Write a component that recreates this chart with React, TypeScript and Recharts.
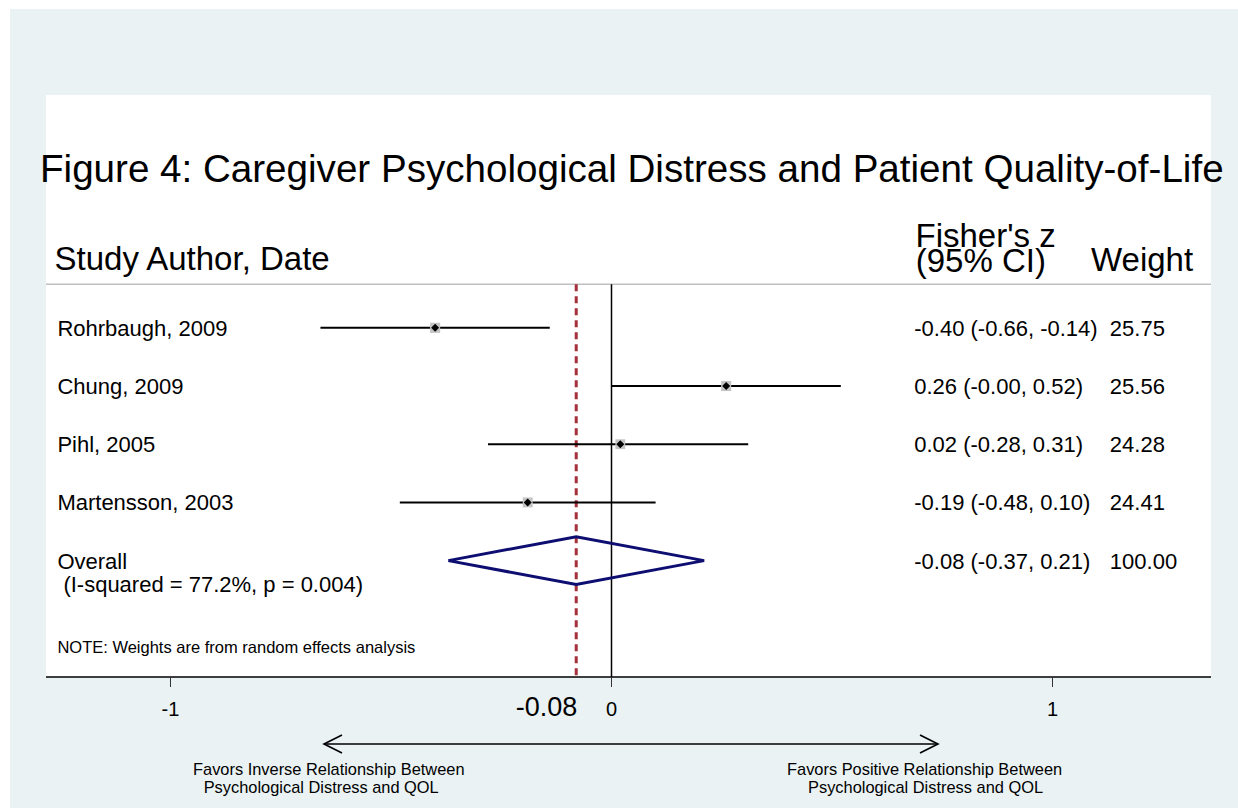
import React from 'react';
import { ComposedChart, Scatter, XAxis, YAxis, ReferenceLine, CartesianGrid, Customized } from 'recharts';

// study rows
const studies = ['Rohrbaugh, 2009', 'Chung, 2009', 'Pihl, 2005', 'Martensson, 2003'];
const estimates = [-0.4, 0.26, 0.02, -0.19];
const lower = [-0.66, -0.0, -0.28, -0.48];
const upper = [-0.14, 0.52, 0.31, 0.1];
const weights = [25.75, 25.56, 24.28, 24.41];
const ciLabels = ['-0.40 (-0.66, -0.14)', '0.26 (-0.00, 0.52)', '0.02 (-0.28, 0.31)', '-0.19 (-0.48, 0.10)'];

// pooled (random effects) result
const overallLabel = 'Overall';
const overallEstimate = -0.08;
const overallLower = -0.37;
const overallUpper = 0.21;
const overallWeight = 100.0;
const overallCiLabel = '-0.08 (-0.37, 0.21)';
const heterogeneity = '(I-squared = 77.2%, p = 0.004)';
const note = 'NOTE: Weights are from random effects analysis';

const xTicks = [-1, overallEstimate, 0, 1];

// layout
const W = 1238;
const H = 808;
const FONT = '"Liberation Sans", Arial, Helvetica, sans-serif';
const X_DOMAIN: [number, number] = [-1.2823, 1.3594];
const Y_DOMAIN: [number, number] = [-3, 7];
const HEADER_ROW = 0.25;
const OVERALL_ROW = studies.length + 1;
const NOTE_ROW = 6.5;
const LABEL_COL = -1.2565;
const CI_COL = 0.6865;
const WEIGHT_COL = 1.13;
const DIAMOND_HALF = 0.41;

const rowOf = (i: number) => i + 1;

const segments = studies.map((_, i) => [
  { x: lower[i], y: rowOf(i) },
  { x: upper[i], y: rowOf(i) },
]);

const points = studies.map((_, i) => ({ x: estimates[i], y: rowOf(i), w: weights[i] }));

const diamond = [
  { x: overallLower, y: OVERALL_ROW },
  { x: overallEstimate, y: OVERALL_ROW - DIAMOND_HALF },
  { x: overallUpper, y: OVERALL_ROW },
  { x: overallEstimate, y: OVERALL_ROW + DIAMOND_HALF },
  { x: overallLower, y: OVERALL_ROW },
];

const labelRows = [...studies, overallLabel].map((t, i) => ({ x: LABEL_COL, y: rowOf(i), text: t }));
const ciRows = [...ciLabels, overallCiLabel].map((t, i) => ({ x: CI_COL, y: rowOf(i), text: t }));
const weightRows = [...weights, overallWeight].map((w, i) => ({ x: WEIGHT_COL, y: rowOf(i), text: w.toFixed(2) }));
const hetRow = [{ x: LABEL_COL, y: OVERALL_ROW, text: heterogeneity }];
const noteRow = [{ x: LABEL_COL, y: NOTE_ROW, text: note }];

const makeText = (size: number, dx = 0, dy = 8) => (props: any) => (
  <text x={props.cx + dx} y={props.cy + dy} fontSize={size} fontFamily={FONT} fill="#000">
    {props.payload.text}
  </text>
);

const Nothing = () => <g />;

const StudyMarker = (props: any) => {
  const { cx, cy, payload } = props;
  const s = 10 * Math.sqrt(payload.w / 25);
  return (
    <g>
      <rect x={cx - s / 2} y={cy - s / 2} width={s} height={s} fill="#c4c4c4" />
      <polygon points={`${cx - 4},${cy} ${cx},${cy - 4} ${cx + 4},${cy} ${cx},${cy + 4}`} fill="#000" />
    </g>
  );
};

const AxisTick = (props: any) => {
  const { x, y, payload } = props;
  const v = payload.value;
  const pooled = Math.abs(v - overallEstimate) < 1e-9;
  return (
    <g>
      {!pooled && <line x1={x} x2={x} y1={y - 10} y2={y} stroke="#333" strokeWidth={1} />}
      <text
        x={pooled ? x + 1 : x}
        y={y + 28.5}
        textAnchor={pooled ? 'end' : 'middle'}
        fontSize={pooled ? 27 : 20}
        fontFamily={FONT}
        fill="#000"
      >
        {pooled ? v.toFixed(2) : String(v)}
      </text>
    </g>
  );
};

const Annotations = () => (
  <g fontFamily={FONT} fill="#000">
    <text x={40} y={181.7} fontSize={38.6}>Figure 4: Caregiver Psychological Distress and Patient Quality-of-Life</text>
    <text x={54.5} y={270} fontSize={33}>Study Author, Date</text>
    <text x={915.5} y={246.7} fontSize={33}>Fisher's z</text>
    <text x={915.7} y={272} fontSize={33}>(95% CI)</text>
    <text x={1091} y={270.5} fontSize={33}>Weight</text>
    <g stroke="#000" strokeWidth={1.6} fill="none">
      <line x1={324} y1={744} x2={938} y2={744} />
      <polyline points="342,735 324,744 342,753" />
      <polyline points="920,735 938,744 920,753" />
    </g>
    <text x={193} y={775} fontSize={16.4}>Favors Inverse Relationship Between</text>
    <text x={203.7} y={793.3} fontSize={16.4}>Psychological Distress and QOL</text>
    <text x={787} y={775} fontSize={16.4}>Favors Positive Relationship Between</text>
    <text x={808} y={793.3} fontSize={16.4}>Psychological Distress and QOL</text>
  </g>
);

export default function App() {
  return (
    <div style={{ position: 'absolute', left: 0, top: 0, width: W, height: H, background: '#fff' }}>
      <div style={{ position: 'absolute', left: 10, top: 9, width: W - 10, height: H - 9, background: '#eaf2f3' }} />
      <div style={{ position: 'absolute', left: 0, top: 0 }}>
        <ComposedChart width={W} height={H} margin={{ top: 95, right: 27, bottom: 91, left: 46 }}>
          <CartesianGrid fill="#ffffff" stroke="none" horizontal={false} vertical={false} />
          <XAxis
            type="number"
            dataKey="x"
            domain={X_DOMAIN}
            allowDataOverflow
            ticks={xTicks}
            interval={0}
            height={40}
            tickSize={10}
            tickMargin={0}
            tickLine={false}
            tick={<AxisTick />}
            axisLine={{ stroke: '#000', strokeWidth: 1.5 }}
          />
          <YAxis type="number" dataKey="y" domain={Y_DOMAIN} allowDataOverflow reversed hide width={0} />
          <ReferenceLine y={HEADER_ROW} stroke="#c0c0c0" strokeWidth={1.5} />
          <ReferenceLine
            segment={[{ x: 0, y: HEADER_ROW }, { x: 0, y: Y_DOMAIN[1] }]}
            stroke="#000"
            strokeWidth={1.5}
          />
          <ReferenceLine
            segment={[{ x: overallEstimate, y: HEADER_ROW }, { x: overallEstimate, y: Y_DOMAIN[1] }]}
            stroke="#a3303a"
            strokeWidth={3}
            strokeDasharray="7 5"
          />
          {segments.map((seg, i) => (
            <Scatter
              key={`ci-${i}`}
              data={seg}
              line={{ stroke: '#000', strokeWidth: 2 }}
              shape={<Nothing />}
              isAnimationActive={false}
            />
          ))}
          <Scatter
            data={diamond}
            line={{ stroke: '#0e0e72', strokeWidth: 3 }}
            shape={<Nothing />}
            isAnimationActive={false}
          />
          <Scatter data={points} shape={<StudyMarker />} isAnimationActive={false} />
          <Scatter data={labelRows} shape={makeText(22)} isAnimationActive={false} />
          <Scatter data={hetRow} shape={makeText(22, 6, 31)} isAnimationActive={false} />
          <Scatter data={ciRows} shape={makeText(22)} isAnimationActive={false} />
          <Scatter data={weightRows} shape={makeText(22)} isAnimationActive={false} />
          <Scatter data={noteRow} shape={makeText(16.5, 0, 5.5)} isAnimationActive={false} />
          <Customized component={Annotations} />
        </ComposedChart>
      </div>
    </div>
  );
}
